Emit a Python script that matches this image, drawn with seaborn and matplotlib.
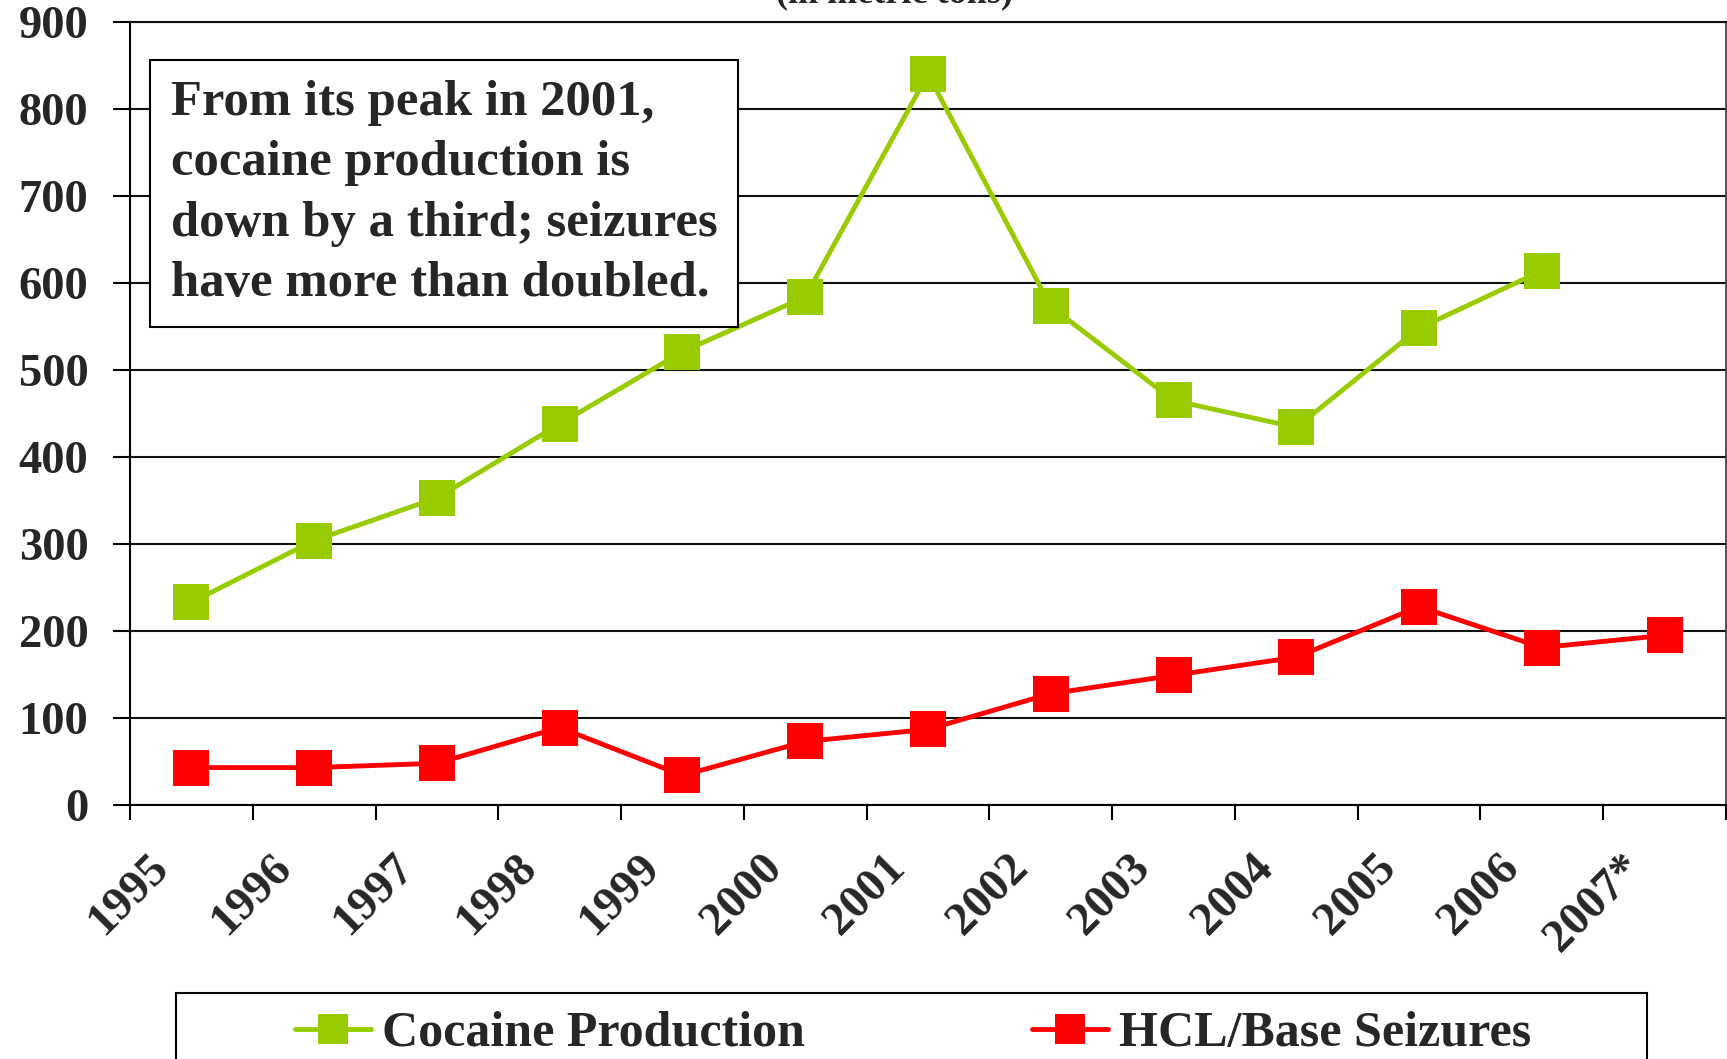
import matplotlib
matplotlib.use("Agg")
import matplotlib.pyplot as plt
import seaborn as sns
import numpy as np
import pandas as pd
from matplotlib.patches import Rectangle

years = ["1995", "1996", "1997", "1998", "1999", "2000", "2001",
         "2002", "2003", "2004", "2005", "2006", "2007*"]
cocaine_production = [233, 304, 353, 438, 521, 584, 840, 573, 465, 434, 548, 614, np.nan]
hcl_base_seizures = [43, 43, 48, 89, 34, 73, 87, 128, 149, 170, 228, 181, 195]
series_names = ["Cocaine Production", "HCL/Base Seizures"]
series_colors = ["#99CC00", "#FF0000"]
y_ticks = [0, 100, 200, 300, 400, 500, 600, 700, 800, 900]
note_text = ("From its peak in 2001,\ncocaine production is\n"
             "down by a third; seizures\nhave more than doubled.")
subtitle = "(in metric tons)"

sns.set_theme(style="white")
plt.rcParams["font.family"] = ["Liberation Serif", "DejaVu Serif"]
plt.rcParams["font.weight"] = "bold"

W, H = 1727, 1059
fig = plt.figure(figsize=(W / 100, H / 100), dpi=100)
fig.patch.set_facecolor("white")
ax = fig.add_axes([130 / W, 1 - 805 / H, (1726 - 130) / W, (805 - 22) / H])

idx = np.arange(len(years))
df = pd.DataFrame({"idx": idx, series_names[0]: cocaine_production,
                   series_names[1]: hcl_base_seizures})

for name, col in zip(series_names, series_colors):
    sns.lineplot(data=df, x="idx", y=name, ax=ax, color=col, label=name,
                 marker="s", markersize=26.5, markeredgewidth=0,
                 linewidth=3.5, legend=False)

ax.set_xlim(-0.5, len(years) - 0.5)
ax.set_ylim(0, 900)
ax.set_yticks(y_ticks)
ax.set_yticklabels([str(v) for v in y_ticks], fontsize=33.5, fontweight="bold")
ax.yaxis.grid(True, color="#111111", linewidth=1.5)
ax.set_axisbelow(True)

# tick marks at category boundaries, labels between
ax.set_xticks(np.arange(len(years) + 1) - 0.5)
ax.set_xticklabels([""] * (len(years) + 1))
ax.set_xticks(idx - 0.36, minor=True)
ax.set_xticklabels(years, minor=True, rotation=45, ha="right",
                   rotation_mode="anchor", fontsize=34, fontweight="bold")
ax.tick_params(axis="x", which="major", direction="out", length=11, width=1.5,
               color="black", bottom=True)
ax.tick_params(axis="x", which="minor", length=0, pad=30, bottom=True)
ax.tick_params(axis="y", direction="out", length=12, width=1.5, color="black",
               left=True, pad=18)
ax.set_xlabel("")
ax.set_ylabel("")

for s in ["left", "bottom"]:
    ax.spines[s].set_color("black")
    ax.spines[s].set_linewidth(1.5)
ax.spines["top"].set_color("#111111")
ax.spines["top"].set_linewidth(1.5)
ax.spines["right"].set_color("#333333")
ax.spines["right"].set_linewidth(1.2)

# annotation box
ax.text(0.0255, 0.926, note_text, transform=ax.transAxes, ha="left", va="top",
        fontsize=36.5, fontweight="bold", linespacing=1.41,
        bbox=dict(boxstyle="square,pad=0.4", facecolor="white",
                  edgecolor="black", linewidth=1.5))

fig.text(895 / W, 1 - 10 / H, subtitle, ha="center", va="bottom",
         fontsize=26, fontweight="bold")

# legend box
fig.patches.append(Rectangle((176 / W, -0.05), (1647 - 176) / W, (1 - 993 / H) + 0.05,
                             transform=fig.transFigure, facecolor="white",
                             edgecolor="black", linewidth=1.5, zorder=0))
handles, labels = ax.get_legend_handles_labels()
fig.legend(handles, labels, loc="center left",
           bbox_to_anchor=(295 / W, 1 - 1034 / H), ncol=2, frameon=False,
           prop={"family": ["Liberation Serif"], "weight": "bold", "size": 36},
           handlelength=1.52, handletextpad=0.22, columnspacing=4.55,
           borderpad=0, borderaxespad=0, markerscale=0.82)

fig.savefig("out.png", dpi=100)
